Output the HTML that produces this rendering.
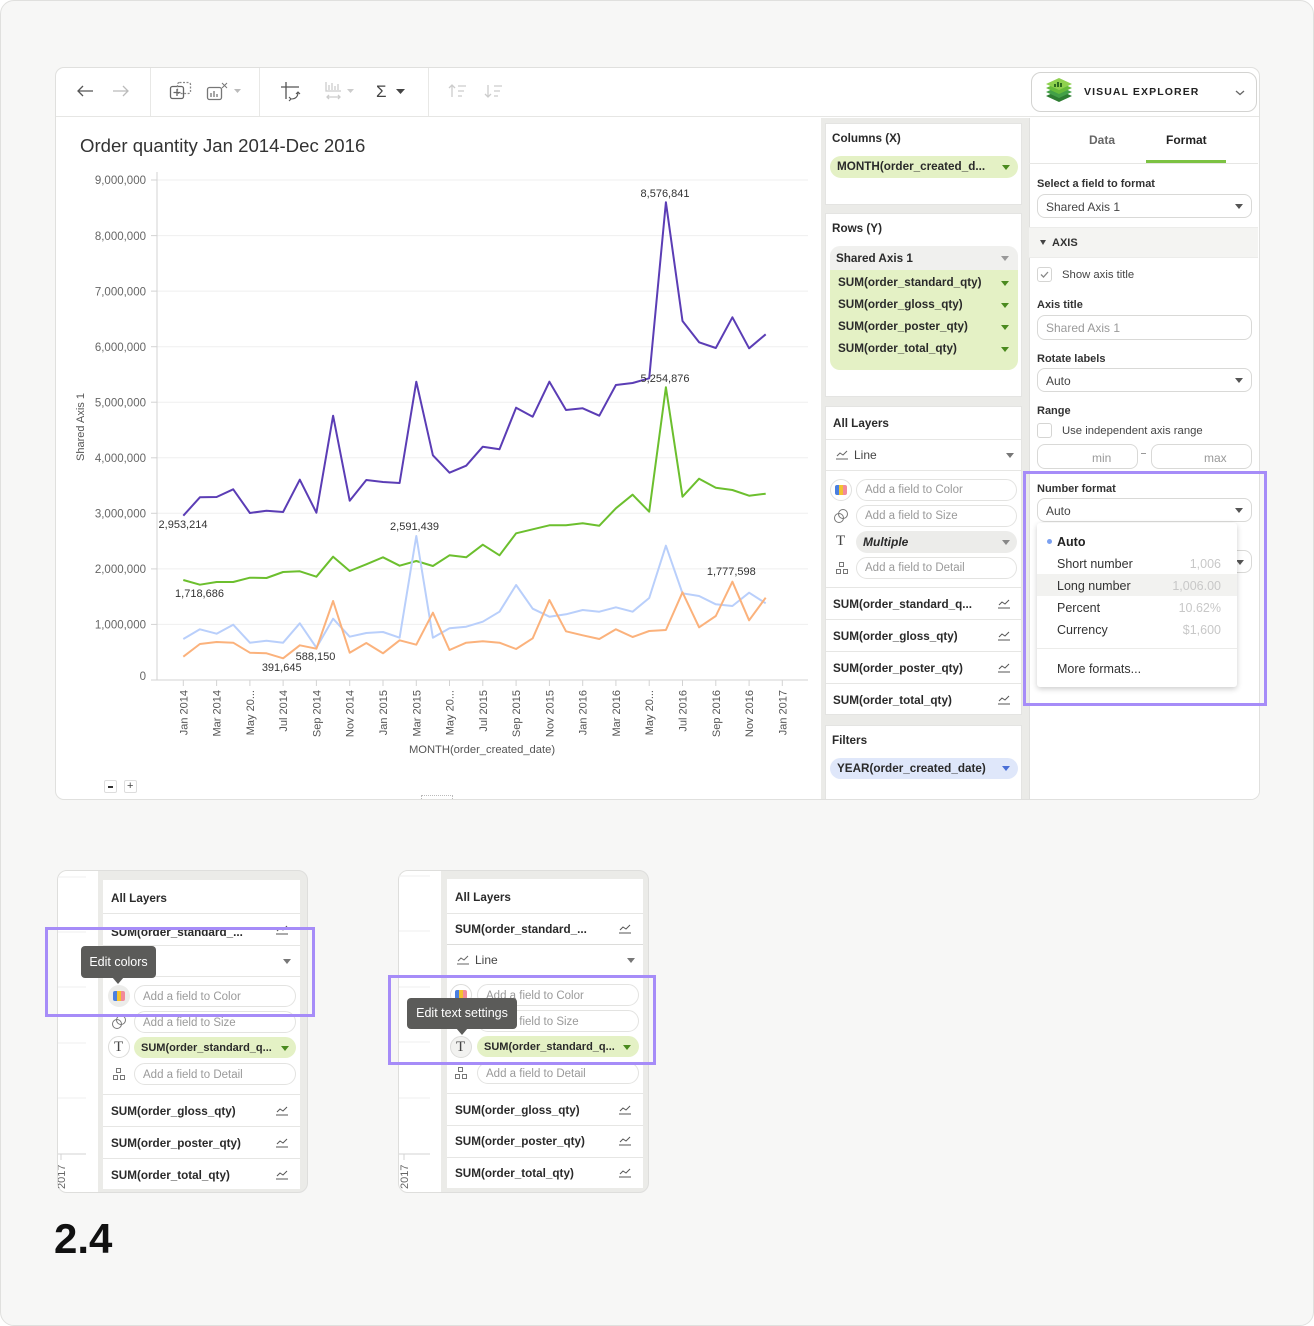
<!DOCTYPE html>
<html><head><meta charset="utf-8">
<style>
*{box-sizing:border-box;margin:0;padding:0}
body{width:1314px;height:1326px;position:relative;background:#fff;font-family:"Liberation Sans",Arial,sans-serif;color:#2a2a2a;overflow:hidden}
.a{position:absolute;white-space:nowrap;line-height:16px;height:16px}
.b{position:absolute}
.cr{position:absolute;width:0;height:0;border-left:4px solid transparent;border-right:4px solid transparent;border-top:5px solid #666}
.fld{position:absolute;border:1px solid #e3e3e1;border-radius:11px;background:#fff;height:22px}
.ph{font-size:11.5px;color:#9a9a9a}
.bd{font-weight:bold;font-size:11.7px;color:#2a2a2a}
.dv{position:absolute;height:1px;background:#e6e6e4}
.card{position:absolute;background:#fff;border:1px solid #e4e4e2}
.pb{position:absolute;border:3px solid #a68cf8}
.tip{position:absolute;background:#5b5b59;color:#fff;font-size:12.5px;border-radius:4px;text-align:center}
.arr{position:absolute;width:0;height:0;border-left:6px solid transparent;border-right:6px solid transparent;border-top:7px solid #5b5b59}
.inp{position:absolute;border:1px solid #d9d9d7;border-radius:8px;background:#fff}
</style></head><body>

<!-- page frame -->
<div class="b" style="left:0;top:0;width:1314px;height:1326px;background:#f7f7f6;border:1px solid #e0e0de;border-radius:14px"></div>

<!-- main card -->
<div class="b" style="left:55px;top:67px;width:1205px;height:733px;background:#fff;border:1px solid #e0e0de;border-radius:9px;overflow:hidden">
  <div class="b" style="left:765px;top:50px;width:208px;height:690px;background:#ebebe8"></div>
  <div class="b" style="left:973px;top:50px;width:232px;height:690px;background:#fff;border-left:1px solid #e0e0de"></div>
</div>
<div class="dv" style="left:56px;top:116px;width:1203px;background:#e6e6e4"></div>
<div class="b" style="left:150px;top:68px;width:1px;height:48px;background:#e8e8e6"></div>
<div class="b" style="left:259px;top:68px;width:1px;height:48px;background:#e8e8e6"></div>
<div class="b" style="left:428px;top:68px;width:1px;height:48px;background:#e8e8e6"></div>

<!-- toolbar icons -->
<svg class="b" style="left:0;top:0" width="560" height="116">
  <g fill="none" stroke-width="1.3">
    <path d="M78 91H93M83 86L78 91L83 96" stroke="#555"/>
    <path d="M113 91H128M123 86L128 91L123 96" stroke="#bbb"/>
    <rect x="170.5" y="86.5" width="13" height="12" rx="2" stroke="#666"/>
    <rect x="177.5" y="82.5" width="13" height="11" rx="2" stroke="#888" stroke-dasharray="2 1.5"/>
    <path d="M177 89v7M173.5 92.5h7" stroke="#666"/>
    <rect x="207.5" y="87.5" width="14" height="12" rx="2" stroke="#777"/>
    <path d="M211 97v-4M214 97v-6M217 97v-3" stroke="#777"/>
    <path d="M222 83l5 5M227 83l-5 5" stroke="#777" stroke-width="1"/>
    <path d="M286 82v17M281 87h18" stroke="#555"/>
    <path d="M291 99c5 0 7-3 7-7M289 97l2 2-2 2M296 94l2-2 2 2" stroke="#555" stroke-width="1.1"/>
    <path d="M326 82v9h15M329 90v-5M332 90v-7M335 90v-4M338 90v-6" stroke="#ccc"/>
    <path d="M327 97h13M329 95l-2 2 2 2M338 95l2 2-2 2" stroke="#ccc"/>
    <path d="M452 97v-12M449 88l3-3 3 3M458 86h8M458 91h6M458 96h4" stroke="#ccc"/>
    <path d="M488 85v12M485 94l3 3 3-3M494 86h8M494 91h6M494 96h4" stroke="#ccc"/>
  </g>
  <path d="M234 89h7l-3.5 4z" fill="#bbb"/>
  <path d="M347 89h7l-3.5 4z" fill="#ccc"/>
  <text x="376" y="97" font-size="17" fill="#444" font-family="Liberation Sans">Σ</text>
  <path d="M396 89h9l-4.5 5z" fill="#444"/>
</svg>

<!-- Visual explorer button -->
<div class="b" style="left:1031px;top:72px;width:226px;height:40px;border:1px solid #d3d3d1;border-radius:10px;background:#fff"></div>
<svg class="b" style="left:1044px;top:75px" width="30" height="30">
  <path d="M2 21L15 15L28 21L15 27Z" fill="#2e7d32"/>
  <path d="M2 17L15 11L28 17L15 23Z" fill="#43a047"/>
  <path d="M2 13L15 7L28 13L15 19Z" fill="#66bb3a"/>
  <path d="M2 9L15 3L28 9L15 15Z" fill="#8fd14f"/>
  <path d="M10 9h2v3h-2zM13 7h2v5h-2zM16 8h2v4h-2z" fill="#2e6b1f"/>
</svg>
<div class="a" style="left:1084px;top:84px;font-size:10.5px;font-weight:bold;letter-spacing:1.1px;color:#222">VISUAL EXPLORER</div>
<svg class="b" style="left:1235px;top:90px" width="10" height="6"><path d="M1 1l4 3.5 4-3.5" fill="none" stroke="#666" stroke-width="1.3"/></svg>

<!-- Chart title -->
<div class="a" style="left:80px;top:136px;font-size:18.6px;line-height:20px;height:20px;color:#333">Order quantity Jan 2014-Dec 2016</div>

<!-- Chart -->
<svg class="b" style="left:0;top:0" width="820" height="800" font-family="Liberation Sans, Arial, sans-serif">
  <g stroke="#efefef" stroke-width="1">
    <line x1="157" y1="180" x2="808" y2="180"/>
    <line x1="157" y1="235.6" x2="808" y2="235.6"/>
    <line x1="157" y1="291.1" x2="808" y2="291.1"/>
    <line x1="157" y1="346.7" x2="808" y2="346.7"/>
    <line x1="157" y1="402.2" x2="808" y2="402.2"/>
    <line x1="157" y1="457.8" x2="808" y2="457.8"/>
    <line x1="157" y1="513.3" x2="808" y2="513.3"/>
    <line x1="157" y1="568.9" x2="808" y2="568.9"/>
    <line x1="157" y1="624.4" x2="808" y2="624.4"/>
  </g>
  <g stroke="#d3d3d3" stroke-width="1">
    <line x1="157" y1="172" x2="157" y2="680"/>
    <line x1="157" y1="680" x2="808" y2="680"/>
    <line x1="151" y1="180" x2="157" y2="180"/><line x1="151" y1="235.6" x2="157" y2="235.6"/>
    <line x1="151" y1="291.1" x2="157" y2="291.1"/><line x1="151" y1="346.7" x2="157" y2="346.7"/>
    <line x1="151" y1="402.2" x2="157" y2="402.2"/><line x1="151" y1="457.8" x2="157" y2="457.8"/>
    <line x1="151" y1="513.3" x2="157" y2="513.3"/><line x1="151" y1="568.9" x2="157" y2="568.9"/>
    <line x1="151" y1="624.4" x2="157" y2="624.4"/><line x1="151" y1="680" x2="157" y2="680"/>
    <line x1="183.3" y1="680" x2="183.3" y2="686"/><line x1="216.6" y1="680" x2="216.6" y2="686"/>
    <line x1="249.9" y1="680" x2="249.9" y2="686"/><line x1="283.1" y1="680" x2="283.1" y2="686"/>
    <line x1="316.4" y1="680" x2="316.4" y2="686"/><line x1="349.7" y1="680" x2="349.7" y2="686"/>
    <line x1="383" y1="680" x2="383" y2="686"/><line x1="416.3" y1="680" x2="416.3" y2="686"/>
    <line x1="449.5" y1="680" x2="449.5" y2="686"/><line x1="482.8" y1="680" x2="482.8" y2="686"/>
    <line x1="516.1" y1="680" x2="516.1" y2="686"/><line x1="549.4" y1="680" x2="549.4" y2="686"/>
    <line x1="582.7" y1="680" x2="582.7" y2="686"/><line x1="615.9" y1="680" x2="615.9" y2="686"/>
    <line x1="649.2" y1="680" x2="649.2" y2="686"/><line x1="682.5" y1="680" x2="682.5" y2="686"/>
    <line x1="715.8" y1="680" x2="715.8" y2="686"/><line x1="749.1" y1="680" x2="749.1" y2="686"/>
    <line x1="782.3" y1="680" x2="782.3" y2="686"/>
  </g>
  <g font-size="11.5" fill="#666" text-anchor="end">
    <text x="146" y="184">9,000,000</text><text x="146" y="240">8,000,000</text>
    <text x="146" y="295.5">7,000,000</text><text x="146" y="351">6,000,000</text>
    <text x="146" y="406.5">5,000,000</text><text x="146" y="462">4,000,000</text>
    <text x="146" y="517.5">3,000,000</text><text x="146" y="573">2,000,000</text>
    <text x="146" y="628.5">1,000,000</text><text x="146" y="680">0</text>
  </g>
  <text transform="translate(84,427) rotate(-90)" text-anchor="middle" font-size="11" fill="#555">Shared Axis 1</text>
  <g font-size="11" fill="#555" text-anchor="end">
    <text transform="translate(187.3,690) rotate(-90)">Jan 2014</text>
    <text transform="translate(220.6,690) rotate(-90)">Mar 2014</text>
    <text transform="translate(253.9,690) rotate(-90)">May 20...</text>
    <text transform="translate(287.1,690) rotate(-90)">Jul 2014</text>
    <text transform="translate(320.4,690) rotate(-90)">Sep 2014</text>
    <text transform="translate(353.7,690) rotate(-90)">Nov 2014</text>
    <text transform="translate(387,690) rotate(-90)">Jan 2015</text>
    <text transform="translate(420.3,690) rotate(-90)">Mar 2015</text>
    <text transform="translate(453.5,690) rotate(-90)">May 20...</text>
    <text transform="translate(486.8,690) rotate(-90)">Jul 2015</text>
    <text transform="translate(520.1,690) rotate(-90)">Sep 2015</text>
    <text transform="translate(553.4,690) rotate(-90)">Nov 2015</text>
    <text transform="translate(586.7,690) rotate(-90)">Jan 2016</text>
    <text transform="translate(619.9,690) rotate(-90)">Mar 2016</text>
    <text transform="translate(653.2,690) rotate(-90)">May 20...</text>
    <text transform="translate(686.5,690) rotate(-90)">Jul 2016</text>
    <text transform="translate(719.8,690) rotate(-90)">Sep 2016</text>
    <text transform="translate(753.1,690) rotate(-90)">Nov 2016</text>
    <text transform="translate(786.3,690) rotate(-90)">Jan 2017</text>
  </g>
  <text x="482" y="753" text-anchor="middle" font-size="11.2" fill="#555">MONTH(order_created_date)</text>

  <g fill="none" stroke-width="2" stroke-linejoin="round">
    <polyline stroke="#5b3db5" points="183.3,515.7 199.9,497.3 216.6,497 233.2,489.3 249.9,513 266.5,510.7 283.1,512 299.8,479.7 316.4,512.7 333.1,415.7 349.7,500.7 366.3,480 383,482 399.6,483 416.3,381.7 432.9,455.3 449.5,472.7 466.2,465.7 482.8,446.7 499.5,449.3 516.1,407.7 532.7,416.7 549.4,381.7 566,410 582.7,408.3 599.3,415.7 615.9,385 632.6,383 649.2,378.3 665.9,202.3 682.5,321 699.1,342.3 715.8,348 732.4,317.3 749.1,348.3 765.7,334.3"/>
    <polyline stroke="#6cbf2e" points="183.3,580 199.9,584.7 216.6,582 233.2,582 249.9,577.7 266.5,578 283.1,572 299.8,571.3 316.4,576.7 333.1,556.7 349.7,571 366.3,564.3 383,557.3 399.6,565.7 416.3,561 432.9,566 449.5,555.3 466.2,557.3 482.8,544.7 499.5,555.3 516.1,533.3 532.7,529.3 549.4,525.3 566,525.3 582.7,523.3 599.3,525.7 615.9,508.3 632.6,494.7 649.2,511.7 665.9,387.3 682.5,496.7 699.1,478.7 715.8,487.7 732.4,490 749.1,495.7 765.7,493.7"/>
    <polyline stroke="#b9cffb" points="183.3,639 199.9,629.3 216.6,633.7 233.2,624.7 249.9,642.7 266.5,640.7 283.1,642.7 299.8,623.3 316.4,647.7 333.1,618.7 349.7,636.7 366.3,633 383,632 399.6,637.7 416.3,536 432.9,637.7 449.5,628.3 466.2,626.7 482.8,621.7 499.5,611.7 516.1,585 532.7,608.7 549.4,616.7 566,614.3 582.7,610 599.3,611.7 615.9,607.3 632.6,611.7 649.2,598 665.9,545.7 682.5,593.3 699.1,596 715.8,604.3 732.4,606 749.1,592.7 765.7,603.3"/>
    <polyline stroke="#fbb27c" points="183.3,656.7 199.9,644 216.6,642 233.2,642.7 249.9,652.7 266.5,653.3 283.1,658.3 299.8,645.3 316.4,648.7 333.1,601 349.7,652.7 366.3,643 383,653.3 399.6,640.3 416.3,644.7 432.9,612.7 449.5,650 466.2,642.7 482.8,641.3 499.5,642.7 516.1,649 532.7,638.3 549.4,600 566,631.3 582.7,635.3 599.3,639 615.9,629.3 632.6,637 649.2,631 665.9,630 682.5,592.3 699.1,627.3 715.8,616 732.4,581.7 749.1,620.3 765.7,597.7"/>
  </g>
  <g font-size="11" fill="#333" text-anchor="middle">
    <text x="665" y="197">8,576,841</text>
    <text x="665" y="382">5,254,876</text>
    <text x="183" y="528">2,953,214</text>
    <text x="414.5" y="530">2,591,439</text>
    <text x="199.5" y="597">1,718,686</text>
    <text x="315.5" y="660">588,150</text>
    <text x="281.7" y="671">391,645</text>
    <text x="731.3" y="575">1,777,598</text>
  </g>
</svg>

<!-- zoom buttons & grip -->
<div class="b" style="left:104px;top:780px;width:13px;height:13px;border:1px solid #ddd;border-radius:2px;background:#fff"></div>
<div class="b" style="left:108px;top:786px;width:5px;height:1.5px;background:#333"></div>
<div class="b" style="left:124px;top:780px;width:13px;height:13px;border:1px solid #ddd;border-radius:2px;background:#fff"></div>
<div class="a" style="left:127px;top:778px;font-size:11px;color:#444">+</div>
<div class="b" style="left:421px;top:795px;width:32px;height:4px;border:1px dotted #bbb;border-bottom:none"></div>

<!-- Middle panel cards -->
<div class="card" style="left:825px;top:123px;width:197px;height:82px"></div>
<div class="a bd" style="left:832px;top:131px">Columns (X)</div>
<div class="b" style="left:830px;top:156px;width:188px;height:22px;background:#e4f1c5;border-radius:11px"></div>
<div class="a bd" style="left:837px;top:159px">MONTH(order_created_d...</div>
<div class="cr" style="left:1002px;top:165px;border-top-color:#4a8a1f"></div>

<div class="card" style="left:825px;top:213px;width:197px;height:184px"></div>
<div class="a bd" style="left:832px;top:221px">Rows (Y)</div>
<div class="b" style="left:830px;top:246px;width:188px;height:24px;background:#f0f0ee;border-radius:10px 10px 0 0"></div>
<div class="a bd" style="left:836px;top:251px">Shared Axis 1</div>
<div class="cr" style="left:1001px;top:256px;border-top-color:#999"></div>
<div class="b" style="left:830px;top:270px;width:188px;height:100px;background:#e4f1c5;border-radius:0 0 10px 10px"></div>
<div class="a bd" style="left:838px;top:275px">SUM(order_standard_qty)</div>
<div class="a bd" style="left:838px;top:297px">SUM(order_gloss_qty)</div>
<div class="a bd" style="left:838px;top:319px">SUM(order_poster_qty)</div>
<div class="a bd" style="left:838px;top:341px">SUM(order_total_qty)</div>
<div class="cr" style="left:1001px;top:281px;border-top-color:#4a8a1f"></div>
<div class="cr" style="left:1001px;top:303px;border-top-color:#4a8a1f"></div>
<div class="cr" style="left:1001px;top:325px;border-top-color:#4a8a1f"></div>
<div class="cr" style="left:1001px;top:347px;border-top-color:#4a8a1f"></div>

<div class="card" style="left:825px;top:406px;width:197px;height:309px"></div>
<div class="a bd" style="left:833px;top:416px">All Layers</div>
<div class="dv" style="left:826px;top:439px;width:195px"></div>
<svg class="b" style="left:836px;top:450px" width="12" height="10"><polyline points="1,6 4,3 7,5 11,1" fill="none" stroke="#666" stroke-width="1"/><line x1="0" y1="9" x2="12" y2="9" stroke="#666"/></svg>
<div class="a" style="left:854px;top:447px;font-size:12px;color:#444">Line</div>
<div class="cr" style="left:1006px;top:453px;border-top-color:#777"></div>
<div class="dv" style="left:826px;top:470px;width:195px"></div>

<div class="b" style="left:830px;top:479px;width:22px;height:22px;border:1px solid #e0e0de;border-radius:50%;background:#fff"></div>
<div class="b" style="left:835px;top:485px;width:4px;height:10px;background:#4a7fe0;border-radius:2px 0 0 2px"></div>
<div class="b" style="left:839px;top:485px;width:4px;height:10px;background:#f2c230"></div>
<div class="b" style="left:843px;top:485px;width:4px;height:10px;background:#f28a9a;border-radius:0 2px 2px 0"></div>
<div class="fld" style="left:856px;top:479px;width:161px"></div>
<div class="a ph" style="left:865px;top:482px">Add a field to Color</div>

<svg class="b" style="left:833px;top:508px" width="16" height="16"><circle cx="10" cy="6" r="4.5" fill="none" stroke="#777"/><circle cx="6" cy="10" r="4.5" fill="none" stroke="#777"/></svg>
<div class="fld" style="left:856px;top:505px;width:161px"></div>
<div class="a ph" style="left:865px;top:508px">Add a field to Size</div>

<div class="a" style="left:836px;top:533px;font-family:'Liberation Serif',serif;font-size:15px;color:#444">T</div>
<div class="b" style="left:856px;top:531px;width:161px;height:22px;background:#ececea;border-radius:11px"></div>
<div class="a" style="left:863px;top:534px;font-size:12px;font-weight:bold;font-style:italic;color:#2a2a2a">Multiple</div>
<div class="cr" style="left:1002px;top:540px;border-top-color:#888"></div>

<svg class="b" style="left:836px;top:562px" width="12" height="12"><rect x="3.5" y="0.5" width="4" height="4" fill="none" stroke="#777"/><rect x="0.5" y="7.5" width="4" height="4" fill="none" stroke="#777"/><rect x="7.5" y="7.5" width="4" height="4" fill="none" stroke="#777"/></svg>
<div class="fld" style="left:856px;top:557px;width:161px"></div>
<div class="a ph" style="left:865px;top:560px">Add a field to Detail</div>

<div class="dv" style="left:826px;top:587px;width:195px"></div>
<div class="a bd" style="left:833px;top:597px">SUM(order_standard_q...</div>
<div class="dv" style="left:826px;top:619px;width:195px"></div>
<div class="a bd" style="left:833px;top:629px">SUM(order_gloss_qty)</div>
<div class="dv" style="left:826px;top:651px;width:195px"></div>
<div class="a bd" style="left:833px;top:661px">SUM(order_poster_qty)</div>
<div class="dv" style="left:826px;top:683px;width:195px"></div>
<div class="a bd" style="left:833px;top:693px">SUM(order_total_qty)</div>
<svg class="b" style="left:998px;top:599px" width="12" height="10"><polyline points="1,6 4,3 7,5 11,1" fill="none" stroke="#555"/><line x1="0" y1="9" x2="12" y2="9" stroke="#555"/></svg>
<svg class="b" style="left:998px;top:631px" width="12" height="10"><polyline points="1,6 4,3 7,5 11,1" fill="none" stroke="#555"/><line x1="0" y1="9" x2="12" y2="9" stroke="#555"/></svg>
<svg class="b" style="left:998px;top:663px" width="12" height="10"><polyline points="1,6 4,3 7,5 11,1" fill="none" stroke="#555"/><line x1="0" y1="9" x2="12" y2="9" stroke="#555"/></svg>
<svg class="b" style="left:998px;top:695px" width="12" height="10"><polyline points="1,6 4,3 7,5 11,1" fill="none" stroke="#555"/><line x1="0" y1="9" x2="12" y2="9" stroke="#555"/></svg>

<div class="card" style="left:825px;top:725px;width:197px;height:74px;border-bottom:none"></div>
<div class="a bd" style="left:832px;top:733px">Filters</div>
<div class="b" style="left:830px;top:758px;width:188px;height:21px;background:#dfe7fa;border-radius:11px"></div>
<div class="a bd" style="left:837px;top:761px">YEAR(order_created_date)</div>
<div class="cr" style="left:1002px;top:766px;border-top-color:#4a6fd6"></div>

<!-- Right panel -->
<div class="a" style="left:1089px;top:132px;font-size:12px;font-weight:bold;color:#666">Data</div>
<div class="a" style="left:1166px;top:132px;font-size:12px;font-weight:bold;color:#222">Format</div>
<div class="b" style="left:1146px;top:160px;width:80px;height:3px;background:#7cc242"></div>
<div class="dv" style="left:1029px;top:163px;width:229px"></div>

<div class="a" style="left:1037px;top:176px;font-size:11px;font-weight:bold;color:#333">Select a field to format</div>
<div class="inp" style="left:1037px;top:194px;width:215px;height:24px"></div>
<div class="a" style="left:1046px;top:199px;font-size:12px;color:#444">Shared Axis 1</div>
<div class="cr" style="left:1235px;top:204px;border-top-color:#555"></div>

<div class="b" style="left:1029px;top:227px;width:229px;height:31px;background:#f4f4f2;border-top:1px solid #ececea;border-bottom:1px solid #ececea"></div>
<div class="cr" style="left:1040px;top:240px;border-top-color:#444;border-left-width:3.5px;border-right-width:3.5px"></div>
<div class="a" style="left:1052px;top:235px;font-size:11px;font-weight:bold;color:#333">AXIS</div>

<div class="b" style="left:1037px;top:267px;width:15px;height:15px;border:1px solid #d5d5d3;border-radius:3px;background:#fff"></div>
<svg class="b" style="left:1039px;top:269px" width="11" height="11"><path d="M2 5.5l2.5 2.5 4.5-5" fill="none" stroke="#888" stroke-width="1.3"/></svg>
<div class="a" style="left:1062px;top:267px;font-size:11.3px;color:#444">Show axis title</div>

<div class="a" style="left:1037px;top:297px;font-size:11px;font-weight:bold;color:#333">Axis title</div>
<div class="inp" style="left:1037px;top:315px;width:215px;height:25px"></div>
<div class="a" style="left:1046px;top:320px;font-size:12px;color:#9a9a9a">Shared Axis 1</div>

<div class="a" style="left:1037px;top:351px;font-size:11px;font-weight:bold;color:#333">Rotate labels</div>
<div class="inp" style="left:1037px;top:368px;width:215px;height:24px"></div>
<div class="a" style="left:1046px;top:373px;font-size:12px;color:#444">Auto</div>
<div class="cr" style="left:1235px;top:378px;border-top-color:#555"></div>

<div class="a" style="left:1037px;top:403px;font-size:11px;font-weight:bold;color:#333">Range</div>
<div class="b" style="left:1037px;top:423px;width:15px;height:15px;border:1px solid #d5d5d3;border-radius:3px;background:#fff"></div>
<div class="a" style="left:1062px;top:423px;font-size:11.3px;color:#444">Use independent axis range</div>
<div class="inp" style="left:1037px;top:444px;width:101px;height:25px"></div>
<div class="a" style="left:1092px;top:450px;font-size:12px;color:#999">min</div>
<div class="b" style="left:1141px;top:453px;width:5px;height:1px;background:#999"></div>
<div class="inp" style="left:1151px;top:444px;width:101px;height:25px"></div>
<div class="a" style="left:1204px;top:450px;font-size:12px;color:#999">max</div>

<div class="a" style="left:1037px;top:481px;font-size:11px;font-weight:bold;color:#333">Number format</div>
<div class="inp" style="left:1037px;top:498px;width:215px;height:24px"></div>
<div class="a" style="left:1046px;top:503px;font-size:12px;color:#444">Auto</div>
<div class="cr" style="left:1235px;top:508px;border-top-color:#555"></div>

<div class="inp" style="left:1037px;top:550px;width:215px;height:23px"></div>
<div class="cr" style="left:1236px;top:560px;border-top-color:#555"></div>

<div class="b" style="left:1037px;top:523px;width:200px;height:164px;background:#fff;border-radius:3px;box-shadow:0 2px 6px rgba(0,0,0,.2)"></div>
<div class="b" style="left:1037px;top:574px;width:200px;height:22px;background:#f2f2f0"></div>
<div class="b" style="left:1047px;top:539px;width:5px;height:5px;border-radius:50%;background:#7ba0f0"></div>
<div class="a" style="left:1057px;top:534px;font-size:12.5px;font-weight:bold;color:#222">Auto</div>
<div class="a" style="left:1057px;top:556px;font-size:12.5px;color:#333">Short number</div>
<div class="a" style="left:1057px;top:578px;font-size:12.5px;color:#333">Long number</div>
<div class="a" style="left:1057px;top:600px;font-size:12.5px;color:#333">Percent</div>
<div class="a" style="left:1057px;top:622px;font-size:12.5px;color:#333">Currency</div>
<div class="a" style="left:1121px;top:556px;width:100px;text-align:right;font-size:12.5px;color:#c8c8c8">1,006</div>
<div class="a" style="left:1121px;top:578px;width:100px;text-align:right;font-size:12.5px;color:#c8c8c8">1,006.00</div>
<div class="a" style="left:1121px;top:600px;width:100px;text-align:right;font-size:12.5px;color:#c8c8c8">10.62%</div>
<div class="a" style="left:1121px;top:622px;width:100px;text-align:right;font-size:12.5px;color:#c8c8c8">$1,600</div>
<div class="dv" style="left:1037px;top:648px;width:200px;background:#ececea"></div>
<div class="a" style="left:1057px;top:661px;font-size:12.5px;color:#333">More formats...</div>

<div class="pb" style="left:1023px;top:471px;width:244px;height:235px"></div>

<!-- Bottom-left panel -->
<div class="b" style="left:57px;top:870px;width:251px;height:323px;background:#ebebe8;border:1px solid #dededc;border-radius:10px;overflow:hidden">
  <div class="b" style="left:0;top:0;width:40px;height:323px;background:#fff"></div>
</div>
<svg class="b" style="left:58px;top:871px" width="39" height="321">
  <g stroke="#efefef"><line x1="0" y1="6" x2="28" y2="6"/><line x1="0" y1="61" x2="28" y2="61"/><line x1="0" y1="116" x2="28" y2="116"/><line x1="0" y1="172" x2="28" y2="172"/><line x1="0" y1="227" x2="28" y2="227"/></g>
  <line x1="0" y1="283" x2="28" y2="283" stroke="#d3d3d3"/>
  <line x1="3" y1="283" x2="3" y2="289" stroke="#d3d3d3"/>
  <text transform="translate(7,318) rotate(-90)" font-size="11" fill="#666" font-family="Liberation Sans">2017</text>
</svg>
<div class="card" style="left:103px;top:880px;width:197px;height:309px;border:none"></div>
<div class="a bd" style="left:111px;top:891px">All Layers</div>
<div class="dv" style="left:103px;top:913px;width:197px"></div>
<div class="a bd" style="left:111px;top:925px">SUM(order_standard_...</div>
<svg class="b" style="left:276px;top:925px" width="12" height="10"><polyline points="1,6 4,3 7,5 11,1" fill="none" stroke="#555"/><line x1="0" y1="9" x2="12" y2="9" stroke="#555"/></svg>
<div class="dv" style="left:103px;top:945px;width:197px"></div>
<div class="cr" style="left:283px;top:959px;border-top-color:#777"></div>
<div class="dv" style="left:103px;top:976px;width:197px"></div>

<div class="b" style="left:108px;top:985px;width:22px;height:22px;border-radius:50%;background:#ececea"></div>
<div class="b" style="left:113px;top:991px;width:4px;height:10px;background:#4a7fe0;border-radius:2px 0 0 2px"></div>
<div class="b" style="left:117px;top:991px;width:4px;height:10px;background:#f2c230"></div>
<div class="b" style="left:121px;top:991px;width:4px;height:10px;background:#f28a9a;border-radius:0 2px 2px 0"></div>
<div class="fld" style="left:134px;top:985px;width:162px"></div>
<div class="a ph" style="left:143px;top:989px">Add a field to Color</div>
<svg class="b" style="left:111px;top:1014px" width="16" height="16"><circle cx="10" cy="6" r="4.5" fill="none" stroke="#777"/><circle cx="6" cy="10" r="4.5" fill="none" stroke="#777"/></svg>
<div class="fld" style="left:134px;top:1011px;width:162px"></div>
<div class="a ph" style="left:143px;top:1015px">Add a field to Size</div>
<div class="b" style="left:108px;top:1036px;width:22px;height:22px;border-radius:50%;border:1px solid #dcdcda;background:#fff"></div>
<div class="a" style="left:114px;top:1039px;font-family:'Liberation Serif',serif;font-size:15px;color:#444">T</div>
<div class="b" style="left:134px;top:1037px;width:162px;height:21px;background:#e4f1c5;border-radius:11px"></div>
<div class="a bd" style="left:141px;top:1040px;font-size:11px">SUM(order_standard_q...</div>
<div class="cr" style="left:281px;top:1046px;border-top-color:#4a8a1f"></div>
<svg class="b" style="left:113px;top:1068px" width="12" height="12"><rect x="3.5" y="0.5" width="4" height="4" fill="none" stroke="#777"/><rect x="0.5" y="7.5" width="4" height="4" fill="none" stroke="#777"/><rect x="7.5" y="7.5" width="4" height="4" fill="none" stroke="#777"/></svg>
<div class="fld" style="left:134px;top:1063px;width:162px"></div>
<div class="a ph" style="left:143px;top:1067px">Add a field to Detail</div>
<div class="dv" style="left:103px;top:1094px;width:197px"></div>
<div class="a bd" style="left:111px;top:1104px">SUM(order_gloss_qty)</div>
<div class="dv" style="left:103px;top:1126px;width:197px"></div>
<div class="a bd" style="left:111px;top:1136px">SUM(order_poster_qty)</div>
<div class="dv" style="left:103px;top:1158px;width:197px"></div>
<div class="a bd" style="left:111px;top:1168px">SUM(order_total_qty)</div>
<svg class="b" style="left:276px;top:1106px" width="12" height="10"><polyline points="1,6 4,3 7,5 11,1" fill="none" stroke="#555"/><line x1="0" y1="9" x2="12" y2="9" stroke="#555"/></svg>
<svg class="b" style="left:276px;top:1138px" width="12" height="10"><polyline points="1,6 4,3 7,5 11,1" fill="none" stroke="#555"/><line x1="0" y1="9" x2="12" y2="9" stroke="#555"/></svg>
<svg class="b" style="left:276px;top:1170px" width="12" height="10"><polyline points="1,6 4,3 7,5 11,1" fill="none" stroke="#555"/><line x1="0" y1="9" x2="12" y2="9" stroke="#555"/></svg>

<div class="tip" style="left:81px;top:946px;width:75px;height:32px;line-height:32px">Edit colors</div>
<div class="arr" style="left:112px;top:977px"></div>
<div class="pb" style="left:45px;top:927px;width:270px;height:90px"></div>

<!-- Bottom-right panel -->
<div class="b" style="left:398px;top:870px;width:251px;height:323px;background:#ebebe8;border:1px solid #dededc;border-radius:10px;overflow:hidden">
  <div class="b" style="left:0;top:0;width:42px;height:323px;background:#fff"></div>
</div>
<svg class="b" style="left:399px;top:871px" width="41" height="321">
  <g stroke="#efefef"><line x1="0" y1="5" x2="31" y2="5"/><line x1="0" y1="60" x2="31" y2="60"/><line x1="0" y1="116" x2="31" y2="116"/><line x1="0" y1="171" x2="31" y2="171"/><line x1="0" y1="227" x2="31" y2="227"/></g>
  <line x1="0" y1="283" x2="31" y2="283" stroke="#d3d3d3"/>
  <line x1="5" y1="283" x2="5" y2="289" stroke="#d3d3d3"/>
  <text transform="translate(9,318) rotate(-90)" font-size="11" fill="#666" font-family="Liberation Sans">2017</text>
</svg>
<div class="card" style="left:447px;top:879px;width:196px;height:309px;border:none"></div>
<div class="a bd" style="left:455px;top:890px">All Layers</div>
<div class="dv" style="left:447px;top:913px;width:196px"></div>
<div class="a bd" style="left:455px;top:922px">SUM(order_standard_...</div>
<svg class="b" style="left:619px;top:924px" width="12" height="10"><polyline points="1,6 4,3 7,5 11,1" fill="none" stroke="#555"/><line x1="0" y1="9" x2="12" y2="9" stroke="#555"/></svg>
<div class="dv" style="left:447px;top:944px;width:196px;background:#dcdcda"></div>
<svg class="b" style="left:457px;top:955px" width="12" height="10"><polyline points="1,6 4,3 7,5 11,1" fill="none" stroke="#666"/><line x1="0" y1="9" x2="12" y2="9" stroke="#666"/></svg>
<div class="a" style="left:475px;top:952px;font-size:12px;color:#444">Line</div>
<div class="cr" style="left:627px;top:958px;border-top-color:#777"></div>
<div class="dv" style="left:447px;top:975px;width:196px"></div>

<div class="b" style="left:450px;top:984px;width:22px;height:22px;border-radius:50%;border:1px solid #dcdcda;background:#fff"></div>
<div class="b" style="left:455px;top:990px;width:4px;height:10px;background:#4a7fe0;border-radius:2px 0 0 2px"></div>
<div class="b" style="left:459px;top:990px;width:4px;height:10px;background:#f2c230"></div>
<div class="b" style="left:463px;top:990px;width:4px;height:10px;background:#f28a9a;border-radius:0 2px 2px 0"></div>
<div class="fld" style="left:477px;top:984px;width:162px"></div>
<div class="a ph" style="left:486px;top:988px">Add a field to Color</div>
<div class="fld" style="left:477px;top:1010px;width:162px"></div>
<div class="a ph" style="left:486px;top:1014px">Add a field to Size</div>
<div class="b" style="left:450px;top:1036px;width:22px;height:22px;border-radius:50%;border:1px solid #dcdcda;background:#f2f2f0"></div>
<div class="a" style="left:456px;top:1039px;font-family:'Liberation Serif',serif;font-size:15px;color:#444">T</div>
<div class="b" style="left:477px;top:1036px;width:162px;height:21px;background:#e4f1c5;border-radius:11px"></div>
<div class="a bd" style="left:484px;top:1039px;font-size:11px">SUM(order_standard_q...</div>
<div class="cr" style="left:623px;top:1045px;border-top-color:#4a8a1f"></div>
<svg class="b" style="left:455px;top:1067px" width="12" height="12"><rect x="3.5" y="0.5" width="4" height="4" fill="none" stroke="#777"/><rect x="0.5" y="7.5" width="4" height="4" fill="none" stroke="#777"/><rect x="7.5" y="7.5" width="4" height="4" fill="none" stroke="#777"/></svg>
<div class="fld" style="left:477px;top:1062px;width:162px"></div>
<div class="a ph" style="left:486px;top:1066px">Add a field to Detail</div>
<div class="dv" style="left:447px;top:1093px;width:196px"></div>
<div class="a bd" style="left:455px;top:1103px">SUM(order_gloss_qty)</div>
<div class="dv" style="left:447px;top:1125px;width:196px"></div>
<div class="a bd" style="left:455px;top:1134px">SUM(order_poster_qty)</div>
<div class="dv" style="left:447px;top:1157px;width:196px"></div>
<div class="a bd" style="left:455px;top:1166px">SUM(order_total_qty)</div>
<svg class="b" style="left:619px;top:1105px" width="12" height="10"><polyline points="1,6 4,3 7,5 11,1" fill="none" stroke="#555"/><line x1="0" y1="9" x2="12" y2="9" stroke="#555"/></svg>
<svg class="b" style="left:619px;top:1136px" width="12" height="10"><polyline points="1,6 4,3 7,5 11,1" fill="none" stroke="#555"/><line x1="0" y1="9" x2="12" y2="9" stroke="#555"/></svg>
<svg class="b" style="left:619px;top:1168px" width="12" height="10"><polyline points="1,6 4,3 7,5 11,1" fill="none" stroke="#555"/><line x1="0" y1="9" x2="12" y2="9" stroke="#555"/></svg>

<div class="tip" style="left:407px;top:998px;width:110px;height:31px;line-height:31px">Edit text settings</div>
<div class="arr" style="left:456px;top:1028px"></div>
<div class="pb" style="left:388px;top:975px;width:268px;height:90px"></div>

<!-- 2.4 -->
<div class="b" style="left:54px;top:1218px;font-size:42px;line-height:42px;font-weight:bold;color:#111;white-space:nowrap">2.4</div>

</body></html>
